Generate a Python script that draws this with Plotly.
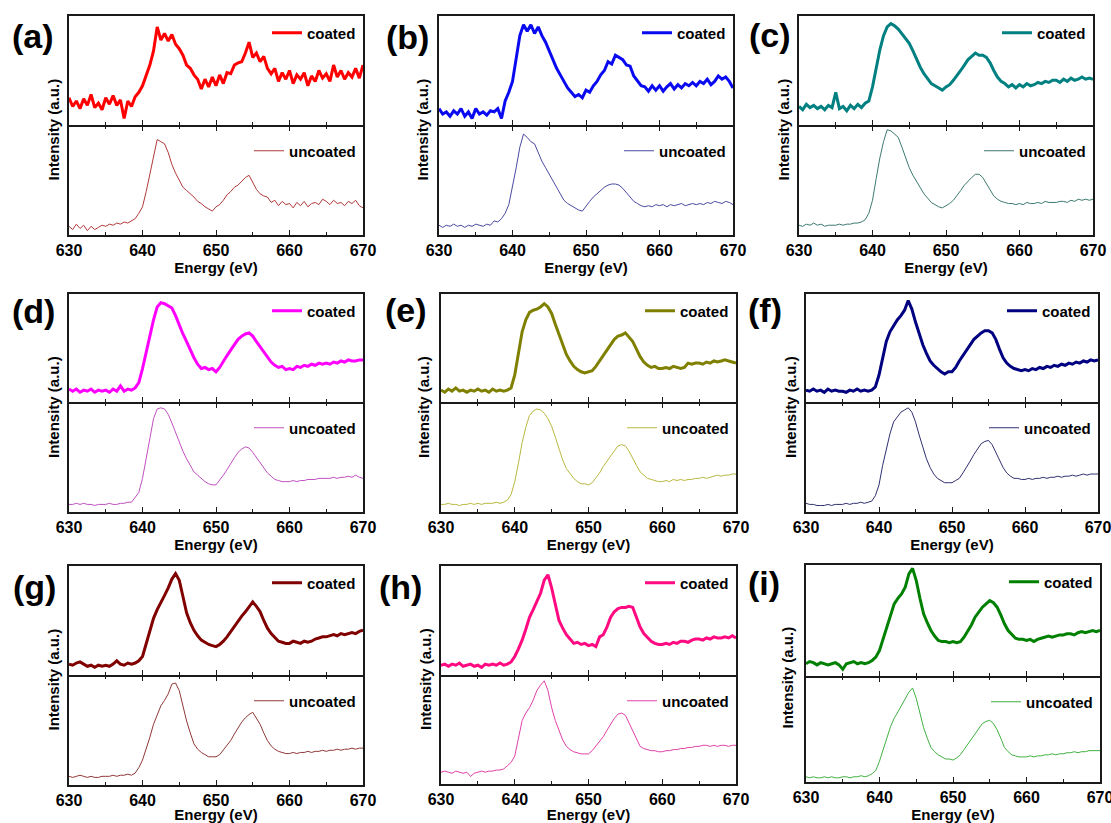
import plotly.graph_objects as go

# ---------------- data (intensity in a.u., sampled every 0.5 eV from 630 to 670 eV) -------------
energy_eV = [630 + 0.5 * i for i in range(81)]

a_coated = [0.25,0.17,0.22,0.15,0.24,0.18,0.28,0.16,0.20,0.14,
            0.25,0.19,0.27,0.18,0.23,0.06,0.22,0.17,0.26,0.30,
            0.36,0.45,0.55,0.68,0.90,0.78,0.84,0.77,0.83,0.74,
            0.70,0.64,0.55,0.52,0.46,0.42,0.33,0.42,0.35,0.44,
            0.36,0.46,0.38,0.48,0.47,0.55,0.57,0.58,0.66,0.76,
            0.62,0.66,0.58,0.63,0.52,0.47,0.52,0.40,0.48,0.42,
            0.50,0.38,0.46,0.42,0.48,0.36,0.45,0.40,0.50,0.43,
            0.47,0.40,0.55,0.44,0.50,0.42,0.48,0.44,0.52,0.43,
            0.55]
a_uncoated = [0.08,0.05,0.10,0.06,0.09,0.04,0.08,0.05,0.07,0.09,
              0.08,0.10,0.09,0.11,0.10,0.12,0.11,0.13,0.15,0.20,
              0.26,0.40,0.56,0.74,0.88,0.86,0.84,0.76,0.65,0.57,
              0.50,0.44,0.41,0.38,0.35,0.31,0.29,0.26,0.24,0.22,
              0.26,0.28,0.32,0.37,0.40,0.44,0.46,0.50,0.53,0.55,
              0.49,0.42,0.38,0.36,0.35,0.30,0.32,0.27,0.31,0.28,
              0.29,0.25,0.30,0.27,0.31,0.26,0.29,0.30,0.28,0.33,
              0.31,0.28,0.32,0.29,0.30,0.27,0.31,0.29,0.32,0.27,
              0.25]
b_coated = [0.15,0.10,0.12,0.08,0.13,0.10,0.15,0.08,0.12,0.06,
            0.15,0.10,0.12,0.09,0.13,0.12,0.15,0.06,0.22,0.30,
            0.40,0.62,0.82,0.92,0.86,0.92,0.84,0.90,0.82,0.76,
            0.68,0.60,0.52,0.46,0.40,0.34,0.30,0.26,0.28,0.25,
            0.32,0.30,0.36,0.40,0.46,0.50,0.58,0.56,0.64,0.62,
            0.60,0.55,0.54,0.45,0.40,0.36,0.35,0.31,0.36,0.32,
            0.36,0.31,0.35,0.38,0.33,0.37,0.34,0.38,0.36,0.39,
            0.36,0.40,0.38,0.42,0.37,0.40,0.45,0.42,0.44,0.40,
            0.34]
b_uncoated = [0.09,0.07,0.09,0.08,0.10,0.08,0.09,0.07,0.09,0.08,
              0.10,0.09,0.08,0.10,0.09,0.13,0.12,0.15,0.20,0.28,
              0.44,0.62,0.81,0.93,0.90,0.86,0.84,0.76,0.68,0.62,
              0.56,0.49,0.43,0.37,0.32,0.29,0.27,0.25,0.23,0.22,
              0.27,0.31,0.35,0.38,0.41,0.44,0.46,0.47,0.47,0.46,
              0.43,0.39,0.35,0.31,0.29,0.27,0.26,0.27,0.26,0.28,
              0.27,0.28,0.26,0.28,0.27,0.28,0.29,0.27,0.28,0.29,
              0.28,0.29,0.28,0.30,0.29,0.31,0.30,0.29,0.31,0.30,
              0.28]
c_coated = [0.17,0.14,0.19,0.16,0.18,0.15,0.17,0.14,0.18,0.16,
            0.30,0.15,0.17,0.13,0.18,0.15,0.19,0.16,0.20,0.22,
            0.35,0.52,0.69,0.82,0.90,0.93,0.91,0.88,0.84,0.80,
            0.75,0.68,0.60,0.53,0.47,0.42,0.38,0.36,0.34,0.32,
            0.35,0.37,0.41,0.45,0.50,0.55,0.60,0.63,0.66,0.64,
            0.64,0.62,0.57,0.50,0.44,0.40,0.38,0.35,0.37,0.34,
            0.37,0.35,0.38,0.36,0.37,0.39,0.38,0.40,0.39,0.41,
            0.41,0.39,0.42,0.40,0.43,0.41,0.42,0.44,0.42,0.43,
            0.42]
c_uncoated = [0.09,0.08,0.10,0.09,0.11,0.09,0.10,0.08,0.09,0.09,
              0.09,0.10,0.09,0.10,0.10,0.11,0.11,0.12,0.14,0.20,
              0.32,0.52,0.71,0.86,0.97,0.96,0.93,0.90,0.81,0.72,
              0.62,0.55,0.49,0.43,0.38,0.34,0.30,0.28,0.26,0.25,
              0.27,0.29,0.32,0.36,0.41,0.46,0.50,0.53,0.56,0.56,
              0.53,0.47,0.41,0.36,0.33,0.31,0.30,0.29,0.29,0.28,
              0.29,0.28,0.30,0.29,0.29,0.30,0.29,0.31,0.30,0.30,
              0.30,0.31,0.31,0.30,0.32,0.31,0.33,0.32,0.33,0.32,
              0.33]
d_coated = [0.12,0.10,0.12,0.09,0.11,0.10,0.12,0.09,0.11,0.10,
            0.11,0.09,0.12,0.10,0.15,0.10,0.12,0.11,0.13,0.18,
            0.31,0.46,0.62,0.76,0.88,0.92,0.91,0.89,0.87,0.80,
            0.71,0.63,0.56,0.48,0.41,0.35,0.31,0.32,0.30,0.31,
            0.28,0.32,0.38,0.43,0.48,0.53,0.58,0.61,0.63,0.64,
            0.61,0.56,0.51,0.46,0.41,0.37,0.34,0.32,0.33,0.30,
            0.31,0.30,0.33,0.32,0.34,0.33,0.35,0.34,0.36,0.35,
            0.36,0.35,0.37,0.36,0.38,0.37,0.39,0.38,0.38,0.39,
            0.39]
d_uncoated = [0.07,0.07,0.08,0.07,0.08,0.07,0.07,0.06,0.07,0.07,
              0.07,0.08,0.07,0.07,0.08,0.08,0.09,0.09,0.13,0.18,
              0.31,0.50,0.70,0.86,0.95,0.96,0.95,0.90,0.82,0.73,
              0.64,0.56,0.49,0.43,0.37,0.34,0.31,0.28,0.26,0.25,
              0.25,0.29,0.34,0.39,0.45,0.50,0.55,0.58,0.60,0.59,
              0.55,0.50,0.45,0.40,0.36,0.33,0.30,0.29,0.28,0.28,
              0.28,0.29,0.28,0.29,0.29,0.30,0.30,0.30,0.31,0.31,
              0.31,0.31,0.32,0.31,0.32,0.32,0.33,0.32,0.34,0.32,
              0.31]
e_coated = [0.11,0.09,0.12,0.10,0.13,0.10,0.11,0.09,0.11,0.10,
            0.12,0.10,0.11,0.09,0.12,0.10,0.11,0.10,0.11,0.13,
            0.25,0.45,0.65,0.76,0.83,0.85,0.86,0.88,0.91,0.88,
            0.82,0.72,0.62,0.52,0.44,0.38,0.33,0.30,0.28,0.27,
            0.28,0.29,0.33,0.38,0.44,0.49,0.54,0.58,0.61,0.62,
            0.64,0.60,0.56,0.49,0.42,0.37,0.34,0.32,0.33,0.31,
            0.31,0.32,0.31,0.33,0.32,0.31,0.32,0.36,0.35,0.36,
            0.36,0.35,0.37,0.36,0.38,0.37,0.38,0.39,0.38,0.37,
            0.36]
e_uncoated = [0.07,0.07,0.08,0.07,0.07,0.06,0.07,0.07,0.08,0.07,
              0.08,0.07,0.08,0.08,0.08,0.09,0.08,0.09,0.11,0.16,
              0.28,0.45,0.64,0.78,0.89,0.93,0.95,0.94,0.91,0.86,
              0.79,0.69,0.58,0.48,0.40,0.35,0.31,0.28,0.26,0.26,
              0.25,0.27,0.31,0.36,0.42,0.47,0.52,0.57,0.61,0.62,
              0.61,0.56,0.49,0.43,0.37,0.34,0.31,0.30,0.29,0.28,
              0.28,0.29,0.28,0.30,0.29,0.30,0.29,0.30,0.30,0.31,
              0.31,0.32,0.31,0.32,0.33,0.34,0.33,0.34,0.34,0.35,
              0.35]
f_coated = [0.11,0.10,0.12,0.10,0.11,0.09,0.12,0.10,0.11,0.10,
            0.10,0.09,0.11,0.10,0.12,0.10,0.11,0.10,0.11,0.14,
            0.25,0.42,0.56,0.65,0.71,0.76,0.80,0.85,0.94,0.86,
            0.74,0.63,0.53,0.45,0.38,0.34,0.31,0.28,0.26,0.28,
            0.28,0.32,0.38,0.43,0.48,0.54,0.58,0.61,0.64,0.66,
            0.66,0.64,0.58,0.49,0.41,0.36,0.33,0.31,0.30,0.29,
            0.30,0.29,0.31,0.30,0.32,0.31,0.33,0.32,0.34,0.33,
            0.35,0.34,0.36,0.35,0.37,0.36,0.38,0.37,0.39,0.38,
            0.39]
f_uncoated = [0.08,0.07,0.07,0.06,0.06,0.06,0.07,0.06,0.07,0.07,
              0.07,0.08,0.07,0.08,0.08,0.09,0.08,0.09,0.10,0.15,
              0.25,0.43,0.59,0.72,0.83,0.88,0.92,0.94,0.96,0.92,
              0.83,0.71,0.59,0.49,0.41,0.35,0.31,0.29,0.27,0.27,
              0.27,0.29,0.31,0.36,0.41,0.47,0.53,0.58,0.63,0.65,
              0.66,0.62,0.55,0.47,0.41,0.36,0.33,0.31,0.31,0.30,
              0.30,0.31,0.30,0.31,0.31,0.32,0.31,0.32,0.32,0.33,
              0.32,0.33,0.33,0.34,0.33,0.34,0.35,0.34,0.35,0.35,
              0.35]
g_coated = [0.10,0.09,0.11,0.12,0.10,0.08,0.09,0.07,0.09,0.08,
            0.09,0.08,0.10,0.13,0.10,0.09,0.11,0.10,0.11,0.13,
            0.17,0.28,0.41,0.52,0.60,0.66,0.73,0.80,0.88,0.93,
            0.87,0.72,0.57,0.48,0.41,0.36,0.32,0.30,0.28,0.27,
            0.26,0.28,0.31,0.35,0.40,0.45,0.50,0.54,0.58,0.62,
            0.67,0.63,0.58,0.50,0.43,0.38,0.34,0.31,0.30,0.29,
            0.29,0.31,0.30,0.29,0.31,0.30,0.31,0.33,0.34,0.35,
            0.35,0.36,0.37,0.36,0.38,0.37,0.38,0.39,0.38,0.40,
            0.41]
g_uncoated = [0.08,0.07,0.08,0.09,0.08,0.07,0.08,0.07,0.07,0.08,
              0.08,0.08,0.09,0.08,0.09,0.09,0.10,0.09,0.11,0.16,
              0.23,0.33,0.44,0.56,0.65,0.73,0.78,0.84,0.93,0.94,
              0.87,0.73,0.59,0.48,0.38,0.33,0.30,0.28,0.26,0.26,
              0.26,0.28,0.32,0.36,0.41,0.47,0.53,0.58,0.62,0.65,
              0.67,0.62,0.56,0.48,0.41,0.36,0.33,0.31,0.30,0.29,
              0.29,0.30,0.29,0.30,0.30,0.31,0.30,0.31,0.31,0.32,
              0.31,0.32,0.32,0.33,0.32,0.33,0.33,0.34,0.33,0.34,
              0.34]
h_coated = [0.09,0.10,0.08,0.10,0.09,0.11,0.08,0.09,0.10,0.08,
            0.09,0.07,0.10,0.09,0.10,0.09,0.11,0.09,0.10,0.12,
            0.17,0.24,0.32,0.42,0.53,0.60,0.68,0.75,0.87,0.92,
            0.80,0.64,0.50,0.43,0.37,0.33,0.29,0.30,0.28,0.29,
            0.27,0.28,0.26,0.35,0.37,0.44,0.53,0.58,0.61,0.62,
            0.62,0.63,0.62,0.53,0.44,0.38,0.34,0.31,0.29,0.28,
            0.28,0.29,0.28,0.30,0.29,0.31,0.31,0.30,0.32,0.33,
            0.33,0.32,0.34,0.33,0.35,0.34,0.34,0.35,0.34,0.36,
            0.34]
h_uncoated = [0.11,0.12,0.11,0.10,0.12,0.11,0.10,0.11,0.07,0.10,
              0.11,0.12,0.11,0.12,0.12,0.13,0.13,0.14,0.17,0.20,
              0.26,0.44,0.59,0.66,0.71,0.78,0.87,0.92,0.96,0.87,
              0.71,0.59,0.49,0.41,0.35,0.32,0.30,0.29,0.28,0.28,
              0.28,0.31,0.35,0.39,0.44,0.50,0.56,0.61,0.65,0.66,
              0.64,0.57,0.50,0.42,0.35,0.33,0.32,0.31,0.31,0.30,
              0.30,0.31,0.31,0.32,0.32,0.33,0.33,0.34,0.34,0.35,
              0.35,0.36,0.36,0.35,0.36,0.35,0.36,0.36,0.35,0.36,
              0.36]
i_coated = [0.11,0.13,0.12,0.10,0.12,0.11,0.10,0.11,0.12,0.10,
            0.06,0.11,0.12,0.13,0.11,0.12,0.11,0.12,0.14,0.17,
            0.23,0.33,0.44,0.55,0.65,0.70,0.74,0.80,0.92,0.97,
            0.86,0.70,0.56,0.48,0.41,0.36,0.32,0.31,0.31,0.30,
            0.31,0.30,0.31,0.35,0.40,0.46,0.53,0.58,0.62,0.65,
            0.68,0.66,0.62,0.55,0.47,0.41,0.37,0.34,0.33,0.33,
            0.32,0.33,0.31,0.33,0.34,0.35,0.36,0.35,0.36,0.37,
            0.37,0.38,0.38,0.37,0.39,0.40,0.39,0.40,0.41,0.40,
            0.41]
i_uncoated = [0.05,0.04,0.05,0.04,0.04,0.05,0.04,0.05,0.04,0.04,
              0.05,0.05,0.04,0.05,0.05,0.06,0.05,0.06,0.08,0.11,
              0.20,0.30,0.42,0.53,0.61,0.67,0.73,0.80,0.86,0.90,
              0.80,0.66,0.52,0.42,0.33,0.29,0.26,0.24,0.22,0.22,
              0.21,0.23,0.26,0.31,0.36,0.42,0.47,0.52,0.56,0.58,
              0.59,0.56,0.50,0.42,0.33,0.29,0.26,0.25,0.24,0.24,
              0.24,0.25,0.24,0.25,0.25,0.26,0.26,0.27,0.26,0.27,
              0.27,0.28,0.28,0.29,0.28,0.29,0.29,0.30,0.30,0.30,
              0.30]

panel_labels = ["(a)", "(b)", "(c)", "(d)", "(e)", "(f)", "(g)", "(h)", "(i)"]
series_names = ["coated", "uncoated"]
coated_series = [a_coated, b_coated, c_coated, d_coated, e_coated, f_coated, g_coated, h_coated, i_coated]
uncoated_series = [a_uncoated, b_uncoated, c_uncoated, d_uncoated, e_uncoated, f_uncoated,
                   g_uncoated, h_uncoated, i_uncoated]
x_ticks = [630, 640, 650, 660, 670]

# ---------------- styles / layout geometry (pixels) ----------------
coated_colors = ["#FF0000", "#0A0AF0", "#008080", "#FF00FF", "#808000", "#000080", "#800000", "#FF0A80", "#008000"]
uncoated_colors = ["#B03A3A", "#4A4AA0", "#3D7A70", "#C050C0", "#B8B840", "#303070", "#903838", "#E040A8", "#40B040"]

W, H = 1111, 823
# left, right, top, divider, bottom
boxes = [
    (69, 363, 16, 125, 235), (439, 733, 16, 125, 235), (799, 1093, 16, 125, 235),
    (69, 363, 294, 402, 512), (441, 736, 294, 402, 512), (806, 1098, 294, 402, 512),
    (69, 363, 566, 675, 785), (441, 736, 566, 675, 784), (806, 1100, 565, 676, 782),
]
ytitle_x = [53, 422, 783, 53, 423, 790, 53, 425, 787]
label_pos = [(33, 36), (407, 37), (770, 35), (33, 311), (406, 310), (765, 310), (34, 587), (400, 587), (764, 583)]

FONT = "Liberation Sans, Arial, sans-serif"
LINE = "#1a1a1a"
LW = 1.5

fig = go.Figure()
layout = dict(
    width=W, height=H, margin=dict(l=0, r=0, t=0, b=0, pad=0, autoexpand=False),
    paper_bgcolor="white", plot_bgcolor="white",
    font=dict(family=FONT, color="black"),
    annotations=[],
)

def px_x(p):
    return p / W

def px_y(p):
    return 1 - p / H

for k in range(9):
    l, r, t, m, b = boxes[k]
    n_top = 2 * k + 1
    n_bot = 2 * k + 2
    sfx_top = "" if n_top == 1 else str(n_top)
    sfx_bot = str(n_bot)

    for n, sfx, data, color, width, name in [
        (n_top, sfx_top, coated_series[k], coated_colors[k], 3.0, series_names[0]),
        (n_bot, sfx_bot, uncoated_series[k], uncoated_colors[k], 1.0, series_names[1]),
    ]:
        leg = "legend" if n == 1 else f"legend{n}"
        fig.add_trace(go.Scatter(
            x=energy_eV, y=data, mode="lines", name=name,
            line=dict(color=color, width=width),
            xaxis="x" + sfx, yaxis="y" + sfx, legend=leg, showlegend=True,
        ))
        seg_top = t if n == n_top else m
        layout[leg] = dict(
            x=px_x(r - 2), xanchor="right",
            y=px_y(seg_top + (17 if n == n_top else 26)), yanchor="middle",
            bgcolor="rgba(0,0,0,0)", borderwidth=0,
            font=dict(family=FONT, size=15, weight="bold", color="black"),
            itemwidth=30, tracegroupgap=0,
        )

    common_x = dict(
        range=[630, 670], tickvals=x_ticks, showgrid=False, zeroline=False, automargin=False,
        showline=True, linecolor=LINE, linewidth=LW, ticklabeloverflow="allow",
        ticks="inside", ticklen=5, tickwidth=1.3, tickcolor=LINE,
        minor=dict(ticks="inside", ticklen=3, tickwidth=1.3, tickcolor=LINE, dtick=5, showgrid=False),
        domain=[px_x(l), px_x(r)],
    )
    common_y = dict(
        range=[0, 1], showgrid=False, zeroline=False, showticklabels=False, automargin=False,
        showline=True, mirror=True, linecolor=LINE, linewidth=LW, ticks="",
    )
    layout["xaxis" + sfx_top] = dict(common_x, anchor="y" + sfx_top, mirror=True, showticklabels=False)
    layout["yaxis" + sfx_top] = dict(common_y, anchor="x" + sfx_top, domain=[px_y(m), px_y(t)])
    layout["xaxis" + sfx_bot] = dict(
        common_x, anchor="y" + sfx_bot, mirror="ticks", showticklabels=True,
        tickfont=dict(family=FONT, size=16, weight="bold", color="black"),
        title=dict(text="Energy (eV)", standoff=3,
                   font=dict(family=FONT, size=15, weight="bold", color="black")),
    )
    # lower panel's top edge shifted by one line width so both frame lines coincide at the divider
    layout["yaxis" + sfx_bot] = dict(common_y, anchor="x" + sfx_bot, domain=[px_y(b), px_y(m + LW)])

    layout["annotations"].append(dict(
        text="Intensity (a.u.)", textangle=-90, xref="paper", yref="paper",
        x=px_x(ytitle_x[k]), y=px_y((t + b) / 2 + 4), xanchor="center", yanchor="middle",
        showarrow=False, font=dict(family=FONT, size=15, weight="bold", color="black"),
    ))
    lx, ly = label_pos[k]
    layout["annotations"].append(dict(
        text=panel_labels[k], xref="paper", yref="paper",
        x=px_x(lx), y=px_y(ly), xanchor="center", yanchor="middle",
        showarrow=False, font=dict(family=FONT, size=34, weight="bold", color="black"),
    ))

fig.update_layout(**layout)
fig.write_html("out.html", config={"displayModeBar": False},
               post_script="document.body.style.margin='0';")
